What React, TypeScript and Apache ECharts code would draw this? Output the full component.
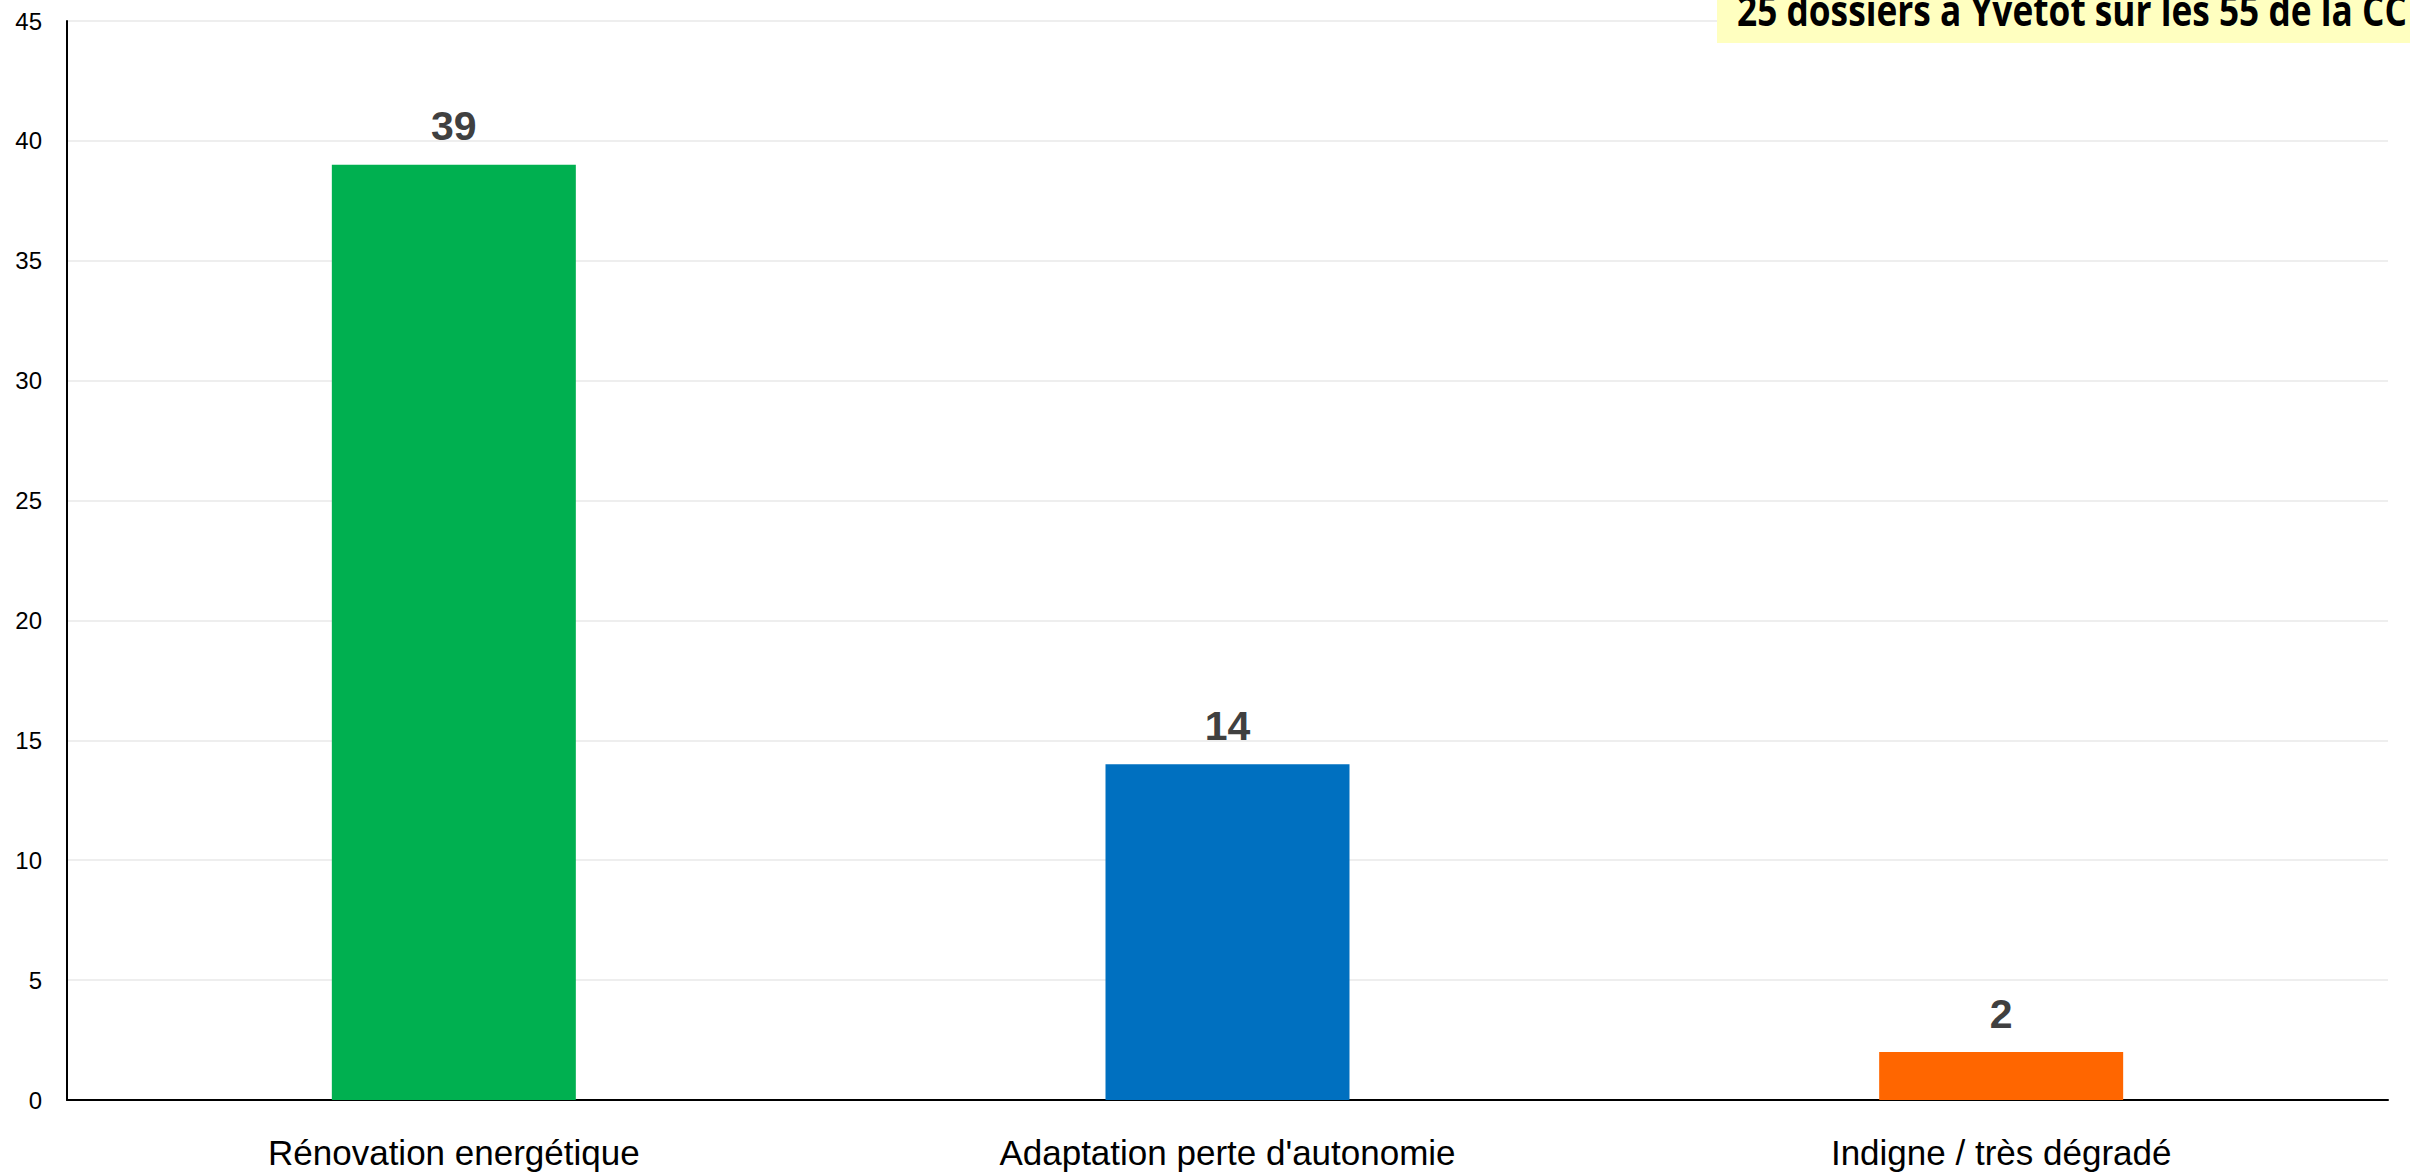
import React, { useEffect, useRef } from "react";
import * as echarts from "echarts";

const categories = ["Rénovation energétique", "Adaptation perte d'autonomie", "Indigne / très dégradé"];
const values = [39, 14, 2];
const barColors = ["#00B050", "#0070C0", "#FF6600"];
const yTicks = { min: 0, max: 45, interval: 5 };
const noteText = "25 dossiers à Yvetot sur les 55 de la CC";

const NARROW = "'Liberation Sans Narrow', 'Arial Narrow', 'Liberation Sans', Arial, sans-serif";

export default function App() {
  const ref = useRef<HTMLDivElement>(null);
  useEffect(() => {
    document.body.style.margin = "0";
    const chart = echarts.init(ref.current!, null, { renderer: "svg" });
    chart.setOption({
      animation: false,
      backgroundColor: "#ffffff",
      grid: { left: 67, right: 22, top: 21, bottom: 76, containLabel: false },
      xAxis: {
        type: "category",
        data: categories,
        axisLine: { lineStyle: { color: "#000", width: 2 } },
        axisTick: { show: false },
        axisLabel: {
          color: "#000",
          fontFamily: NARROW,
          fontSize: 35,
          margin: 35,
        },
      },
      yAxis: {
        type: "value",
        min: yTicks.min,
        max: yTicks.max,
        interval: yTicks.interval,
        axisLine: { show: true, lineStyle: { color: "#000", width: 2 } },
        axisTick: { show: false },
        splitLine: { lineStyle: { color: "#eeeeee", width: 2 } },
        axisLabel: {
          color: "#000",
          fontFamily: NARROW,
          fontSize: 24,
          margin: 25,
        },
      },
      series: [
        {
          type: "bar",
          data: values.map((v, i) => ({ value: v, itemStyle: { color: barColors[i] } })),
          barWidth: 244,
          label: {
            show: true,
            position: "top",
            distance: 18,
            color: "#404040",
            fontFamily: NARROW,
            fontWeight: "bold",
            fontSize: 41,
          },
        },
      ],
      graphic: [
        {
          type: "rect",
          shape: { x: 1717, y: 0, width: 700, height: 43 },
          style: { fill: "#FFFFC0" },
          z: 10,
        },
        {
          type: "text",
          x: 1737,
          y: 31,
          scaleX: 0.82,
          z: 11,
          style: {
            text: noteText,
            fill: "#000",
            fontFamily: "Open Sans",
            fontWeight: "bold",
            fontSize: 43,
            verticalAlign: "bottom",
          },
        },
      ],
    });
    return () => chart.dispose();
  }, []);
  return <div ref={ref} style={{ position: "fixed", left: 0, top: 0, width: 2410, height: 1176 }} />;
}
